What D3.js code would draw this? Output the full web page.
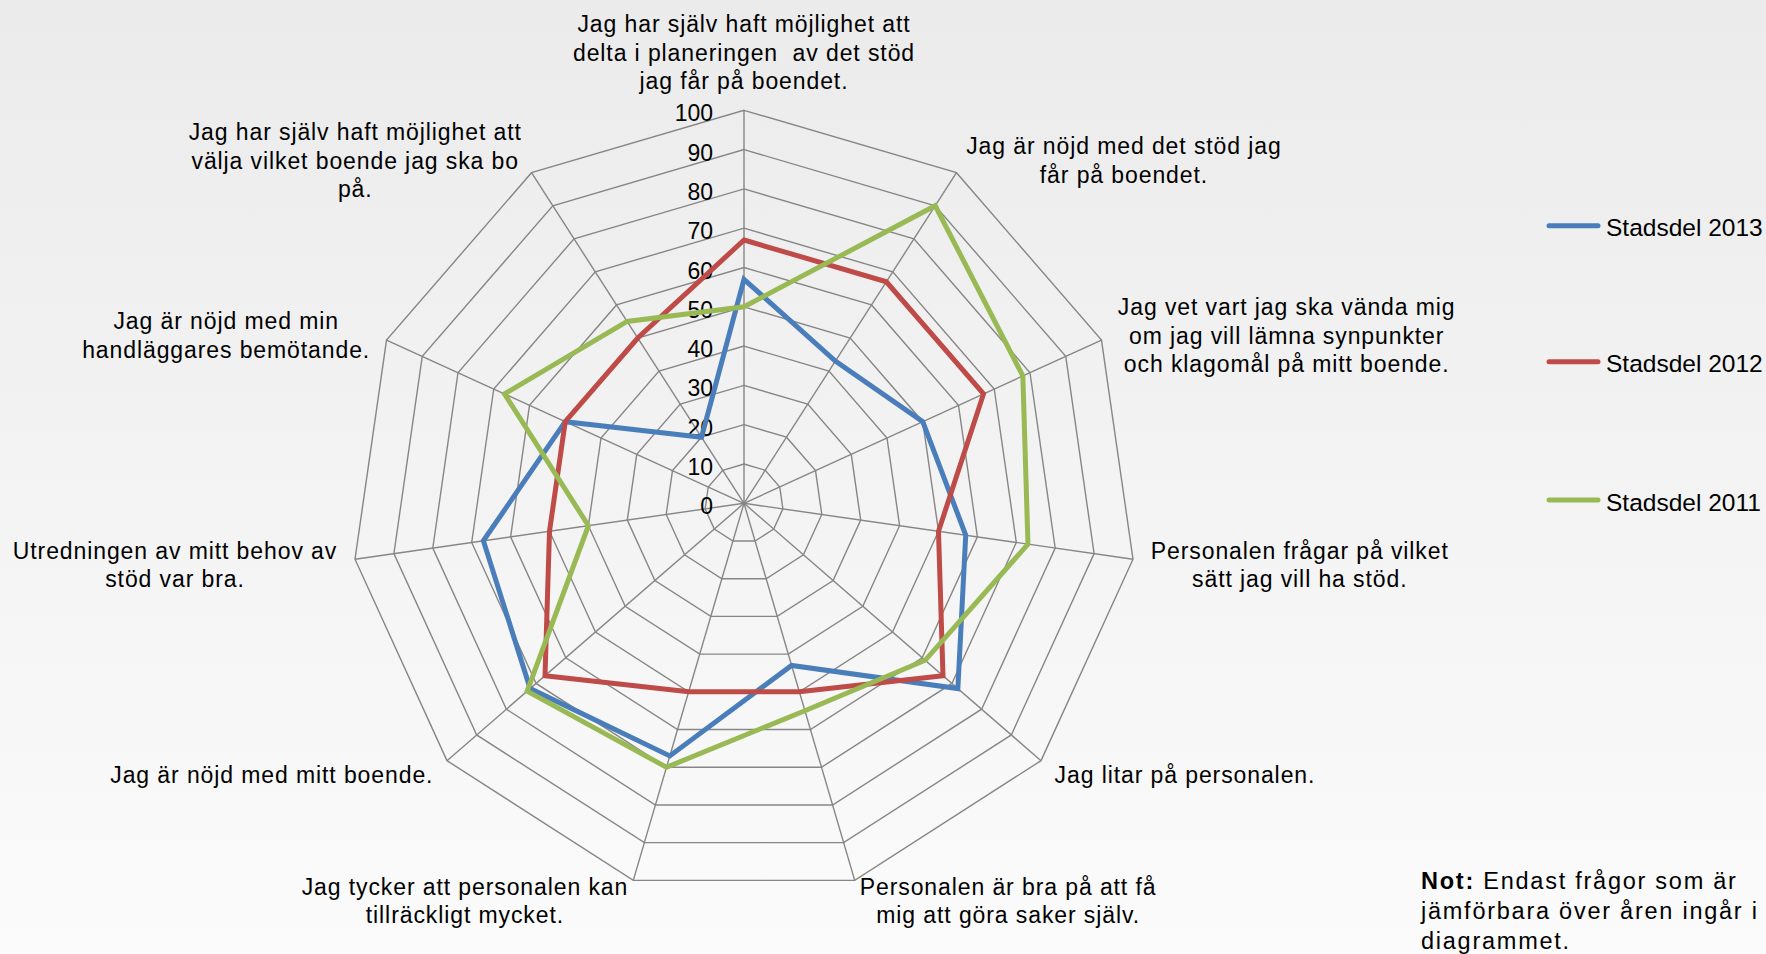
<!DOCTYPE html>
<html>
<head>
<meta charset="utf-8">
<script src="https://cdn.jsdelivr.net/npm/d3@7"></script>
<style>
  html, body { margin: 0; padding: 0; }
  body { width: 1766px; height: 954px; overflow: hidden; }
  text { font-family: "Liberation Sans", Arial, sans-serif; fill: #000; }
</style>
</head>
<body>
<svg id="chart" width="1766" height="954"></svg>
<script>
// ---------- data ----------
const categories = [
  ["Jag har själv haft möjlighet att", "delta i planeringen  av det stöd", "jag får på boendet."],
  ["Jag är nöjd med det stöd jag", "får på boendet."],
  ["Jag vet vart jag ska vända mig", "om jag vill lämna synpunkter", "och klagomål på mitt boende."],
  ["Personalen frågar på vilket", "sätt jag vill ha stöd."],
  ["Jag litar på personalen."],
  ["Personalen är bra på att få", "mig att göra saker själv."],
  ["Jag tycker att personalen kan", "tillräckligt mycket."],
  ["Jag är nöjd med mitt boende."],
  ["Utredningen av mitt behov av", "stöd var bra."],
  ["Jag är nöjd med min", "handläggares bemötande."],
  ["Jag har själv haft möjlighet att", "välja vilket boende jag ska bo", "på."]
];
const seriesNames = ["Stadsdel 2013", "Stadsdel 2012", "Stadsdel 2011"];
const values2013 = [57, 43, 50, 57, 72, 43, 67, 72, 67, 50, 20];
const values2012 = [67, 67, 67, 50, 67, 50, 50, 67, 50, 50, 50];
const values2011 = [50, 90, 78, 73, 61, 55, 70, 73, 40, 67, 55];
const seriesColors = ["#4a7ebb", "#be4b48", "#98b954"];
const tickValues = [0, 10, 20, 30, 40, 50, 60, 70, 80, 90, 100];
const noteBold = "Not:";
const noteLines = [" Endast frågor som är", "jämförbara över åren ingår i", "diagrammet."];

// ---------- layout ----------
const W = 1766, H = 954;
const cx = 744, cy = 503.3, R = 393;
const svg = d3.select("#chart");

const defs = svg.append("defs");
const grad = defs.append("linearGradient").attr("id", "bg").attr("x1", 0).attr("y1", 0).attr("x2", 0).attr("y2", 1);
grad.append("stop").attr("offset", "0%").attr("stop-color", "#ebebeb");
grad.append("stop").attr("offset", "100%").attr("stop-color", "#fbfbfb");
svg.append("rect").attr("width", W).attr("height", H).attr("fill", "url(#bg)");

const n = categories.length;
const r = d3.scaleLinear().domain([0, 100]).range([0, R]);
const angle = d3.scaleLinear().domain([0, n]).range([0, 2 * Math.PI]);
const idx = d3.range(n);

const g = svg.append("g").attr("transform", `translate(${cx},${cy})`);

// grid rings
const ringLine = d3.lineRadial().angle((d, i) => angle(i)).radius(d => r(d)).curve(d3.curveLinearClosed);
tickValues.filter(t => t > 0).forEach(t => {
  g.append("path").attr("d", ringLine(idx.map(() => t)))
    .attr("fill", "none").attr("stroke", "#868686").attr("stroke-width", 1.4);
});
// spokes
idx.forEach(i => {
  const a = angle(i) - Math.PI / 2;
  g.append("line").attr("x1", 0).attr("y1", 0)
    .attr("x2", r(100) * Math.cos(a)).attr("y2", r(100) * Math.sin(a))
    .attr("stroke", "#868686").attr("stroke-width", 1.4);
});

// tick labels
g.selectAll("text.tick").data(tickValues).enter().append("text")
  .attr("class", "tick")
  .attr("x", -31).attr("y", d => -r(d) + 3)
  .attr("dy", "0.35em")
  .attr("text-anchor", "end")
  .style("font-size", "23px")
  .text(d => d);

// series
const seriesData = [values2013, values2012, values2011];
const dataLine = d3.lineRadial().angle((d, i) => angle(i)).radius(d => r(d)).curve(d3.curveLinearClosed);
seriesData.forEach((vals, s) => {
  g.append("path").attr("d", dataLine(vals))
    .attr("fill", "none").attr("stroke", seriesColors[s])
    .attr("stroke-width", 5).attr("stroke-linejoin", "miter");
});

// category labels
const fs = 23, lh = 28.35, gap = 18;
categories.forEach((lines, i) => {
  const a = angle(i) - Math.PI / 2;
  const ux = Math.cos(a), uy = Math.sin(a);
  const qx = cx + (R + gap) * ux;
  const qy = cy + (R + gap) * uy + 3;
  const tg = svg.append("g");
  const texts = lines.map(l => tg.append("text")
    .style("font-size", fs + "px").style("letter-spacing", "0.9px")
    .style("white-space", "pre")
    .attr("text-anchor", "middle").text(l));
  const w = d3.max(texts, t => t.node().getComputedTextLength());
  const h = lines.length * lh;
  let bx, top;
  if (Math.abs(ux) < 0.01) {
    bx = qx;
    top = uy < 0 ? qy - h : qy;
  } else {
    bx = ux > 0 ? qx + w / 2 : qx - w / 2;
    top = qy - h / 2;
  }
  texts.forEach((t, k) => t.attr("x", bx).attr("y", top + lh * (k + 0.5) + 0.35 * fs));
});

// legend
const legendY = [225.7, 361.7, 500];
seriesNames.forEach((name, s) => {
  svg.append("line").attr("x1", 1549).attr("x2", 1598)
    .attr("y1", legendY[s]).attr("y2", legendY[s])
    .attr("stroke", seriesColors[s]).attr("stroke-width", 5).attr("stroke-linecap", "round");
  svg.append("text").attr("x", 1606).attr("y", legendY[s] + 2).attr("dy", "0.35em")
    .style("font-size", "24.5px").text(name);
});

// note
const noteY = [881, 911, 941];
noteLines.forEach((l, k) => {
  const t = svg.append("text").attr("x", 1421).attr("y", noteY[k]).attr("dy", "0.35em")
    .style("font-size", "23.5px").style("letter-spacing", "1.75px").style("white-space", "pre");
  if (k === 0) {
    t.append("tspan").style("font-weight", "bold").text(noteBold);
  }
  t.append("tspan").text(l);
});
</script>
</body>
</html>
